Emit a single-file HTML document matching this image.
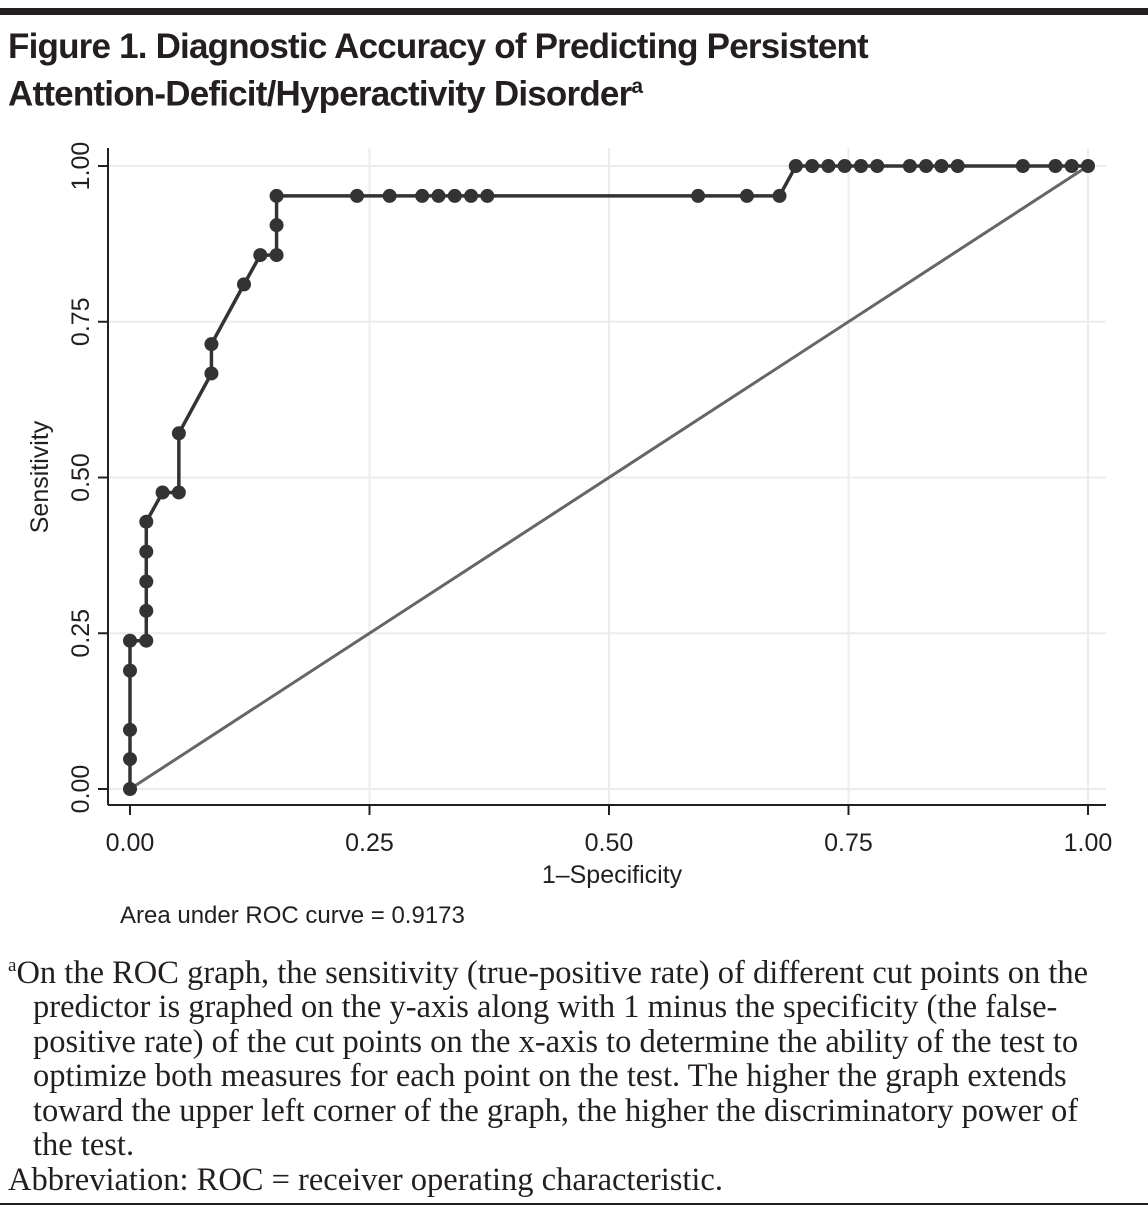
<!DOCTYPE html>
<html><head><meta charset="utf-8"><style>
body{margin:0;background:#fff;width:1148px;height:1215px;overflow:hidden;position:relative}
.rule{position:absolute;left:0;width:1148px;background:#231f20}
.title{position:absolute;left:8px;top:27px;font:bold 35px/40px "Liberation Sans",sans-serif;color:#231f20;letter-spacing:-0.8px}
.foot{position:absolute;left:8px;top:949px;width:1135px;font:32.5px/34.5px "Liberation Serif",serif;color:#231f20;white-space:nowrap}
.foot p{margin:0;padding-left:25px;text-indent:-25px}
</style></head><body>
<div class="rule" style="top:8px;height:7px"></div>
<div class="title">Figure 1. Diagnostic Accuracy of Predicting Persistent<br>Attention-Deficit/Hyperactivity Disorder<sup style="font-size:21px">a</sup></div>
<svg id="chart" width="1148" height="940" style="position:absolute;left:0;top:0" font-family="Liberation Sans, sans-serif"></svg>
<div class="foot">
<p><sup style="font-size:19px">a</sup>On the ROC graph, the sensitivity (true-positive rate) of different cut points on the<br>predictor is graphed on the y-axis along with 1 minus the specificity (the false-<br>positive rate) of the cut points on the x-axis to determine the ability of the test to<br>optimize both measures for each point on the test. The higher the graph extends<br>toward the upper left corner of the graph, the higher the discriminatory power of<br>the test.</p>
<p style="padding-left:0;text-indent:0">Abbreviation: ROC = receiver operating characteristic.</p>
</div>
<div class="rule" style="top:1203px;height:2px"></div>
<script>
const fprValues=[0,0,0,0,0,0.017,0.017,0.017,0.017,0.017,0.034,0.051,0.051,0.085,0.085,0.119,0.136,0.153,0.153,0.153,0.237,0.271,0.305,0.322,0.339,0.356,0.373,0.593,0.644,0.678,0.695,0.712,0.729,0.746,0.763,0.78,0.814,0.831,0.847,0.864,0.932,0.966,0.983,1];
const sensValues=[0,0.048,0.095,0.19,0.238,0.238,0.286,0.333,0.381,0.429,0.476,0.476,0.571,0.667,0.714,0.81,0.857,0.857,0.905,0.952,0.952,0.952,0.952,0.952,0.952,0.952,0.952,0.952,0.952,0.952,1,1,1,1,1,1,1,1,1,1,1,1,1,1];
const tickValues=[0,0.25,0.5,0.75,1];
const tickLabels=["0.00","0.25","0.50","0.75","1.00"];
const svg=document.getElementById('chart');const NS='http://www.w3.org/2000/svg';
const X=v=>130+v*958, Y=v=>789-v*623;
function mk(t,a,txt){const e=document.createElementNS(NS,t);for(const k in a)e.setAttribute(k,a[k]);if(txt!=null)e.textContent=txt;svg.appendChild(e);return e;}
tickValues.forEach((t,i)=>{
 if(t>0){let g=mk('line',{x1:X(t),x2:X(t),y1:148,y2:805,stroke:'#ececec','stroke-width':2});}
 let h=mk('line',{x1:108,x2:1106,y1:Y(t),y2:Y(t),stroke:'#ececec','stroke-width':2});
 let a=mk('line',{x1:X(t),x2:X(t),y1:805,y2:815,stroke:'#231f20','stroke-width':2});
 let b=mk('line',{x1:98,x2:108,y1:Y(t),y2:Y(t),stroke:'#231f20','stroke-width':2});
 let lx=mk('text',{x:X(t),y:851,'text-anchor':'middle','font-size':25,fill:'#231f20'},tickLabels[i]);
 let ly=mk('text',{x:0,y:0,'text-anchor':'middle','font-size':25,fill:'#231f20',transform:`translate(89,${Y(t)}) rotate(-90)`},tickLabels[i]);
});
let ax=mk('line',{x1:108,x2:1106,y1:805,y2:805,stroke:'#231f20','stroke-width':2});
let ay=mk('line',{x1:108,x2:108,y1:148,y2:805,stroke:'#231f20','stroke-width':2});
let xt=mk('text',{x:612,y:883,'text-anchor':'middle','font-size':25,fill:'#231f20'},'1–Specificity');
let yt=mk('text',{x:0,y:0,'text-anchor':'middle','font-size':25,fill:'#231f20',transform:'translate(48,477) rotate(-90)'},'Sensitivity');
let au=mk('text',{x:120,y:923,'font-size':24,fill:'#231f20'},'Area under ROC curve = 0.9173');
let ref=mk('line',{x1:X(0),y1:Y(0),x2:X(1),y2:Y(1),stroke:'#666','stroke-width':3});
let p=mk('polyline',{points:fprValues.map((v,i)=>X(v)+','+Y(sensValues[i])).join(' '),fill:'none',stroke:'#333','stroke-width':3.5});
fprValues.forEach((v,i)=>{let c=mk('circle',{cx:X(v),cy:Y(sensValues[i]),r:7,fill:'#333'});});
</script>
</body></html>
